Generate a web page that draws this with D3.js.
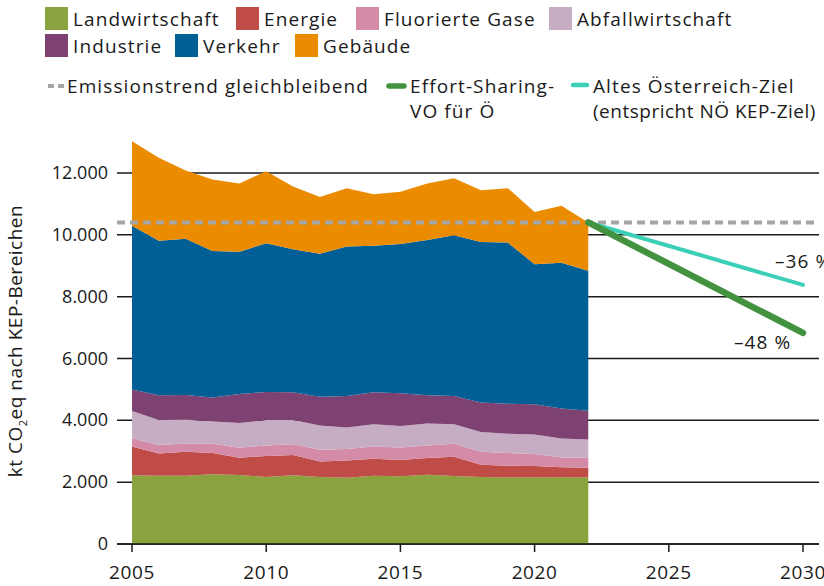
<!DOCTYPE html>
<html>
<head>
<meta charset="utf-8">
<title>KEP-Bereiche</title>
<script src="https://d3js.org/d3.v7.min.js"></script>
<style>
  body { margin: 0; background: #fff; }
  svg { display: block; font-family: "Open Sans", sans-serif; }
  text { fill: #1a1a1a; }
  .lab { font-size: 19px; letter-spacing: 1.1px; }
</style>
</head>
<body>
<svg width="824" height="586"></svg>
<script>
// --- data (kt CO2eq) ---
var years = [2005, 2006, 2007, 2008, 2009, 2010, 2011, 2012, 2013, 2014, 2015, 2016, 2017, 2018, 2019, 2020, 2021, 2022];
var sectors = ["Landwirtschaft", "Energie", "Fluorierte Gase", "Abfallwirtschaft", "Industrie", "Verkehr", "Gebäude"];
var landwirtschaft = [2220, 2210, 2210, 2260, 2230, 2170, 2220, 2170, 2140, 2210, 2190, 2240, 2200, 2170, 2150, 2150, 2160, 2150];
var energie        = [930, 720, 770, 680, 560, 680, 660, 500, 560, 550, 530, 540, 620, 390, 380, 370, 320, 320];
var fluorierte     = [270, 270, 270, 300, 320, 340, 350, 380, 370, 390, 400, 410, 420, 420, 410, 390, 320, 320];
var abfall         = [880, 810, 780, 720, 800, 820, 780, 780, 700, 720, 700, 710, 630, 640, 630, 630, 610, 590];
var industrie      = [700, 800, 790, 780, 940, 910, 900, 930, 1020, 1040, 1060, 910, 920, 960, 970, 980, 970, 930];
var verkehr        = [5290, 5000, 5050, 4740, 4600, 4810, 4620, 4630, 4830, 4740, 4820, 5020, 5200, 5190, 5210, 4530, 4720, 4530];
var gebaeude       = [2740, 2680, 2210, 2310, 2210, 2330, 2030, 1830, 1890, 1660, 1690, 1830, 1840, 1670, 1760, 1690, 1840, 1560];

var trendLevel = 10400;              // Emissionstrend gleichbleibend
var targetYears = [2022, 2030];
var esrTarget = [10400, 6830];       // Effort-Sharing-VO für Ö (-48 %)
var oldTarget = [10400, 8380];       // Altes Österreich-Ziel (-36 %)

var yTicks = [0, 2000, 4000, 6000, 8000, 10000, 12000];
var xTicks = [2005, 2010, 2015, 2020, 2025, 2030];

var colors = ["#8aa33e", "#bf4c46", "#d48ba8", "#c6adc4", "#7e4272", "#015f96", "#eb8b00"];
var series = [landwirtschaft, energie, fluorierte, abfall, industrie, verkehr, gebaeude];

var svg = d3.select("svg");

var x = d3.scaleLinear().domain([2005, 2030]).range([132, 803]);
var y = d3.scaleLinear().domain([0, 12000]).range([544, 173]);
var gridLeft = 117, gridRight = 819;

var de = d3.formatLocale({decimal: ",", thousands: ".", grouping: [3], currency: ["", " €"]});
var fmt = de.format(",");

// gridlines (behind areas)
svg.append("g").selectAll("line")
  .data(yTicks)
  .enter().append("line")
  .attr("x1", gridLeft).attr("x2", gridRight)
  .attr("y1", function(d) { return y(d); })
  .attr("y2", function(d) { return y(d); })
  .attr("stroke", "#1a1a1a")
  .attr("stroke-width", 1.5);

// stacked areas
var table = years.map(function(yr, i) {
  var row = {year: yr};
  sectors.forEach(function(s, k) { row[s] = series[k][i]; });
  return row;
});
var stacked = d3.stack().keys(sectors)(table);
var area = d3.area()
  .x(function(d) { return x(d.data.year); })
  .y0(function(d) { return y(d[0]); })
  .y1(function(d) { return y(d[1]); });

svg.append("g").selectAll("path")
  .data(stacked)
  .enter().append("path")
  .attr("fill", function(d, i) { return colors[i]; })
  .attr("d", area);

// x axis line + ticks
svg.append("line")
  .attr("x1", gridLeft).attr("x2", gridRight)
  .attr("y1", y(0)).attr("y2", y(0))
  .attr("stroke", "#1a1a1a").attr("stroke-width", 1.5);

svg.append("g").selectAll("line")
  .data(xTicks)
  .enter().append("line")
  .attr("x1", function(d) { return x(d); })
  .attr("x2", function(d) { return x(d); })
  .attr("y1", y(0)).attr("y2", y(0) + 8)
  .attr("stroke", "#1a1a1a").attr("stroke-width", 1.5);

svg.append("g").selectAll("text")
  .data(xTicks)
  .enter().append("text")
  .attr("x", function(d) { return x(d); })
  .attr("y", 579)
  .attr("text-anchor", "middle")
  .style("font-size", "19px")
  .style("letter-spacing", "0.6px")
  .text(function(d) { return d; });

// y tick labels
svg.append("g").selectAll("text")
  .data(yTicks)
  .enter().append("text")
  .attr("x", 108)
  .attr("y", function(d) { return y(d) + 6; })
  .attr("text-anchor", "end")
  .style("font-size", "18px")
  .text(function(d) { return fmt(d); });

// y axis title
var yt = svg.append("text")
  .attr("transform", "translate(22,341) rotate(-90)")
  .attr("text-anchor", "middle")
  .style("font-size", "19px")
  .style("letter-spacing", "0.5px");
yt.append("tspan").text("kt CO");
yt.append("tspan").attr("dy", 5).style("font-size", "11px").text("2");
yt.append("tspan").attr("dy", -5).text("eq nach KEP-Bereichen");

// trend line (dashed)
svg.append("line")
  .attr("x1", gridLeft).attr("x2", gridRight)
  .attr("y1", y(trendLevel)).attr("y2", y(trendLevel))
  .attr("stroke", "#a6a6a6").attr("stroke-width", 4)
  .attr("stroke-dasharray", "8,5");

var line = d3.line()
  .x(function(d) { return x(d[0]); })
  .y(function(d) { return y(d[1]); });

svg.append("path")
  .datum(d3.zip(targetYears, oldTarget))
  .attr("d", line)
  .attr("fill", "none")
  .attr("stroke", "#3ccfb7")
  .attr("stroke-width", 4)
  .attr("stroke-linecap", "round");

svg.append("path")
  .datum(d3.zip(targetYears, esrTarget))
  .attr("d", line)
  .attr("fill", "none")
  .attr("stroke", "#42923f")
  .attr("stroke-width", 6.5)
  .attr("stroke-linecap", "round");

svg.append("text").attr("class", "lab")
  .attr("x", 775).attr("y", 268)
  .text("–36 %");
svg.append("text").attr("class", "lab")
  .attr("x", 734).attr("y", 349)
  .text("–48 %");

// legend: areas
var legendPos = [[45, 7], [236, 7], [356, 7], [549, 7], [45, 34], [175, 34], [295, 34]];
var leg = svg.append("g").selectAll("g")
  .data(sectors)
  .enter().append("g")
  .attr("transform", function(d, i) {
    return "translate(" + legendPos[i][0] + "," + legendPos[i][1] + ")";
  });
leg.append("rect")
  .attr("width", 23).attr("height", 23)
  .attr("fill", function(d, i) { return colors[i]; });
leg.append("text").attr("class", "lab")
  .attr("x", 28).attr("y", 19)
  .text(function(d) { return d; });

// legend: lines
svg.append("line")
  .attr("x1", 48).attr("x2", 64).attr("y1", 86).attr("y2", 86)
  .attr("stroke", "#a6a6a6").attr("stroke-width", 4)
  .attr("stroke-dasharray", "6,4");
svg.append("text").attr("class", "lab").attr("x", 67).attr("y", 93)
  .text("Emissionstrend gleichbleibend");

svg.append("line")
  .attr("x1", 389).attr("x2", 404).attr("y1", 86).attr("y2", 86)
  .attr("stroke", "#42923f").attr("stroke-width", 5.5)
  .attr("stroke-linecap", "round");
svg.append("text").attr("class", "lab").attr("x", 410).attr("y", 93)
  .text("Effort-Sharing-");
svg.append("text").attr("class", "lab").attr("x", 410).attr("y", 118)
  .text("VO für Ö");

svg.append("line")
  .attr("x1", 573).attr("x2", 587).attr("y1", 85).attr("y2", 85)
  .attr("stroke", "#3ccfb7").attr("stroke-width", 4.5)
  .attr("stroke-linecap", "round");
svg.append("text").attr("class", "lab").attr("x", 593).attr("y", 93)
  .text("Altes Österreich-Ziel");
svg.append("text").attr("class", "lab").attr("x", 593).attr("y", 118)
  .style("letter-spacing", "0.5px")
  .text("(entspricht NÖ KEP-Ziel)");
</script>
</body>
</html>
